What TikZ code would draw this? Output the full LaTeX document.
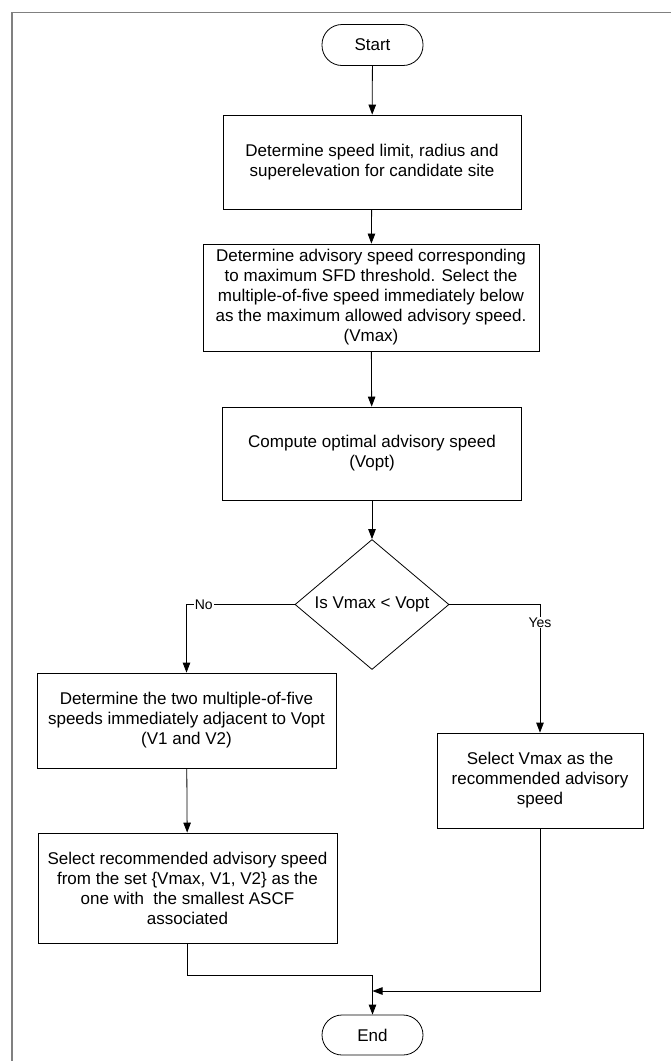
\documentclass[tikz,border=0pt]{standalone}
\usepackage{fontspec}
\setmainfont{Liberation Sans}
\usepackage{tikz}
\usetikzlibrary{arrows.meta, positioning, shapes.geometric}

\begin{document}
\begin{tikzpicture}[x=1pt, y=-1pt, line width=0.8pt,
    every node/.style={font=\fontsize{17}{20}\selectfont, align=center, inner sep=0pt},
    box/.style={rectangle, draw},
    term/.style={rectangle, draw, rounded corners=20pt, minimum width=101pt, minimum height=41pt},
    decide/.style={diamond, draw, minimum width=154pt, minimum height=107pt},
    lbl/.style={fill=white, inner sep=1pt, font=\fontsize{14}{16}\selectfont},
    arr/.style={-{Triangle[length=10pt, width=7.5pt]}}]
    \useasboundingbox (0,0) rectangle (670,1061);
    \draw[gray, line width=1.5pt] (12,12.5) rectangle (690,1080);
    \node[term] (start) at (372.5,45) {Start};
    \node[box, minimum width=298pt, minimum height=94pt] (s1) at (372,162) {Determine speed limit, radius and\\superelevation for candidate site};
    \node[box, minimum width=336pt, minimum height=107pt] (s2) at (371,297.5) {Determine advisory speed corresponding\\to maximum SFD threshold. Select the\\multiple-of-five speed immediately below\\as the maximum allowed advisory speed.\\(Vmax)};
    \node[box, minimum width=299pt, minimum height=93pt] (s3) at (372,453.5) {Compute optimal advisory speed\\(Vopt)};
    \node[decide] (q) at (372,604.5) {Is Vmax < Vopt};
    \node[box, minimum width=299pt, minimum height=95pt] (s4) at (186.5,720.5) {Determine the two multiple-of-five\\speeds immediately adjacent to Vopt\\(V1 and V2)};
    \node[box, minimum width=299pt, minimum height=110pt] (s5) at (187.5,888) {Select recommended advisory speed\\from the set \{Vmax, V1, V2\} as the\\one with\ \ the smallest ASCF\\associated};
    \node[box, minimum width=206pt, minimum height=95pt] (s6) at (540,780.5) {Select Vmax as the\\recommended advisory\\speed};
    \node[term, minimum height=40pt] (end) at (372.5,1035) {End};
    \coordinate (j1) at (372.5,975);
    \coordinate (j2) at (372.5,991);
    \draw[arr] (start) -- (s1);
    \draw[arr] (s1) -- (s2);
    \draw[arr] (s2) -- (s3);
    \draw[arr] (s3) -- (q);
    \draw[arr] (q.west) -| node[lbl, pos=0.42] {No} (s4.north);
    \draw[arr] (q.east) -| node[lbl, pos=0.57] {Yes} (s6.north);
    \draw[arr] (s4) -- (s5);
    \draw[arr] (s5.south) |- (j1) -- (end.north);
    \draw[arr] (s6.south) |- (j2);
\end{tikzpicture}
\end{document}
